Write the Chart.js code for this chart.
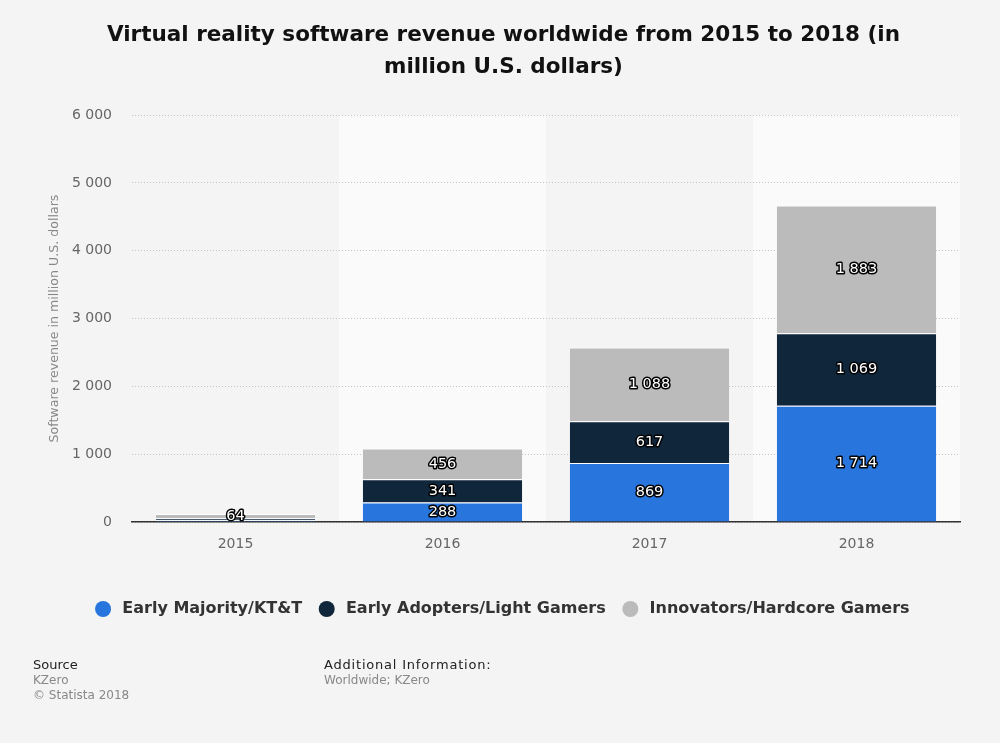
<!DOCTYPE html>
<html>
<head>
<meta charset="utf-8">
<script src="https://cdn.jsdelivr.net/npm/chart.js@4.4.0/dist/chart.umd.min.js"></script>
<style>
  html, body { margin: 0; padding: 0; background: #f4f4f4; }
  #wrap { position: relative; width: 1000px; height: 743px; }
  .foot { position: absolute; font-family: 'DejaVu Sans', sans-serif; font-size: 12px; color: #888; line-height: 15px; }
  .foot b { font-weight: normal; color: #222; font-size: 13px; }
</style>
</head>
<body>
<div id="wrap">
  <canvas id="chart"></canvas>
  <div class="foot" style="left:33px; top:657px;"><b>Source</b><br>KZero<br>© Statista 2018</div>
  <div class="foot" style="left:324px; top:657px;"><b style="letter-spacing:0.8px">Additional Information:</b><br>Worldwide; KZero</div>
</div>
<script>
// Chart data
const years = ['2015', '2016', '2017', '2018'];
const earlyMajority = [24, 288, 869, 1714];
const earlyAdopters = [30, 341, 617, 1069];
const innovators = [64, 456, 1088, 1883];
const yTicks = [0, 1000, 2000, 3000, 4000, 5000, 6000];

const FONT = "'DejaVu Sans', sans-serif";
const fmt = v => String(v).replace(/\B(?=(\d{3})+(?!\d))/g, ' ');

// Alternating light column bands behind the bars
const bandPlugin = {
    id: 'bands',
    beforeDraw(chart) {
        const { ctx, chartArea, scales } = chart;
        const x = scales.x;
        const step = x.getPixelForValue(1) - x.getPixelForValue(0);
        ctx.save();
        ctx.fillStyle = '#fafafa';
        years.forEach((y, i) => {
            if (i % 2 === 1) {
                const c = x.getPixelForValue(i);
                ctx.fillRect(c - step / 2, chartArea.top, step, chartArea.bottom - chartArea.top);
            }
        });
        ctx.restore();
    }
};

// White outlined value labels centred in each segment
const labelPlugin = {
    id: 'segLabels',
    afterDatasetsDraw(chart) {
        const { ctx } = chart;
        ctx.save();
        ctx.font = '14.5px ' + FONT;
        ctx.textAlign = 'center';
        ctx.textBaseline = 'middle';
        ctx.lineJoin = 'round';
        chart.data.datasets.forEach((ds, di) => {
            const meta = chart.getDatasetMeta(di);
            meta.data.forEach((bar, i) => {
                const v = ds.data[i];
                if (v < 50) return;
                const yMid = (bar.y + bar.base) / 2;
                const text = fmt(v);
                ctx.strokeStyle = '#000';
                ctx.lineWidth = 3;
                ctx.strokeText(text, bar.x, yMid);
                ctx.fillStyle = '#fff';
                ctx.fillText(text, bar.x, yMid);
            });
        });
        ctx.restore();
    }
};

new Chart(document.getElementById('chart'), {
    type: 'bar',
    data: {
        labels: years,
        datasets: [
            { label: 'Early Majority/KT&T', data: earlyMajority, backgroundColor: '#2876dd' },
            { label: 'Early Adopters/Light Gamers', data: earlyAdopters, backgroundColor: '#10263b' },
            { label: 'Innovators/Hardcore Gamers', data: innovators, backgroundColor: '#bbbbbb' }
        ].map(d => Object.assign(d, {
            borderColor: '#ffffff',
            borderWidth: { top: 1, bottom: 0, left: 0, right: 0 },
            borderSkipped: false,
            categoryPercentage: 0.77,
            barPercentage: 1
        }))
    },
    options: {
        responsive: true,
        maintainAspectRatio: false,
        animation: false,
        layout: { padding: { left: 47, right: 40, top: 0, bottom: 116 } },
        plugins: {
            title: {
                display: true,
                text: ['Virtual reality software revenue worldwide from 2015 to 2018 (in', 'million U.S. dollars)'],
                color: '#111',
                font: { family: FONT, size: 21.5, weight: 'bold', lineHeight: 1.49 },
                padding: { top: 19, bottom: 32 }
            },
            legend: {
                position: 'bottom',
                labels: {
                    usePointStyle: true,
                    pointStyle: 'circle',
                    boxWidth: 11.3,
                    boxHeight: 11.3,
                    padding: 19,
                    color: '#333',
                    font: { family: FONT, size: 16, weight: 'bold' },
                    generateLabels(chart) {
                        return Chart.defaults.plugins.legend.labels.generateLabels(chart)
                            .map(l => Object.assign(l, { text: ' ' + l.text, strokeStyle: l.fillStyle, lineWidth: 0 }));
                    }
                }
            },
            tooltip: { enabled: false }
        },
        scales: {
            x: {
                stacked: true,
                afterFit(scale) { scale.height = 60; },
                grid: { display: false, drawTicks: false },
                border: { color: '#333', width: 1.5 },
                ticks: { color: '#666', padding: 14, font: { family: FONT, size: 14 } }
            },
            y: {
                stacked: true,
                min: 0,
                max: 6000,
                afterFit(scale) { scale.width = 85; },
                afterBuildTicks(scale) { scale.ticks = yTicks.map(v => ({ value: v })); },
                grid: { color: '#c4c4c4', drawTicks: false, lineWidth: 1 },
                border: { display: false, dash: [1, 2] },
                ticks: {
                    color: '#666',
                    padding: 20,
                    font: { family: FONT, size: 14 },
                    callback: v => fmt(v)
                },
                title: {
                    display: true,
                    text: 'Software revenue in million U.S. dollars',
                    color: '#888',
                    font: { family: FONT, size: 12.6 },
                    padding: 0
                }
            }
        }
    },
    plugins: [bandPlugin, labelPlugin]
});
</script>
</body>
</html>
